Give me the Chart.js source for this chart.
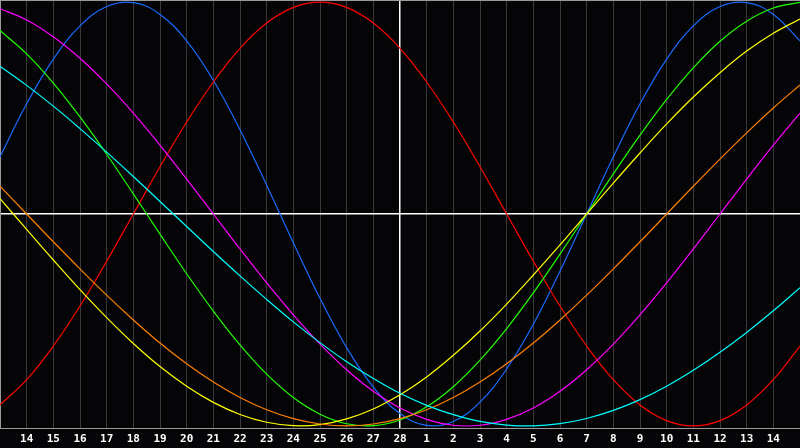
<!DOCTYPE html>
<html>
<head>
<meta charset="utf-8">
<script src="https://cdn.jsdelivr.net/npm/chart.js@4/dist/chart.umd.min.js"></script>
<style>
  html, body { margin: 0; padding: 0; background: #050508; }
  #wrap { width: 800px; height: 448px; position: relative; }
</style>
</head>
<body>
<div id="wrap"><canvas id="bio"></canvas></div>
<script>
// Day labels: first and last sit on the chart edges and are not printed
const dayLabels = ['13', '14', '15', '16', '17', '18', '19', '20', '21', '22', '23', '24', '25', '26', '27', '28',
    '1', '2', '3', '4', '5', '6', '7', '8', '9', '10', '11', '12', '13', '14', '15'];
const todayIndex = 15;

// Cycle values, one per day (-1 .. 1)
const physical = [0.27, 0.52, 0.731, 0.888, 0.979, 0.998, 0.942, 0.817, 0.631, 0.398, 0.136, -0.136, -0.398, -0.631, -0.817, -0.942,
    -0.998, -0.979, -0.888, -0.731, -0.52, -0.27, 0, 0.27, 0.52, 0.731, 0.888, 0.979, 0.998, 0.942, 0.817];
const emotional = [-0.901, -0.782, -0.623, -0.434, -0.223, 0, 0.223, 0.434, 0.623, 0.782, 0.901, 0.975, 1, 0.975, 0.901, 0.782,
    0.623, 0.434, 0.223, 0, -0.223, -0.434, -0.623, -0.782, -0.901, -0.975, -1, -0.975, -0.901, -0.782, -0.623];
const intellectual = [0.866, 0.756, 0.618, 0.458, 0.282, 0.095, -0.095, -0.282, -0.458, -0.618, -0.756, -0.866, -0.945, -0.99, -0.999, -0.972,
    -0.91, -0.815, -0.69, -0.541, -0.372, -0.189, 0, 0.189, 0.372, 0.541, 0.69, 0.815, 0.91, 0.972, 0.999];
const intuitive = [0.969, 0.916, 0.837, 0.735, 0.614, 0.476, 0.325, 0.165, 0, -0.165, -0.325, -0.476, -0.614, -0.735, -0.837, -0.916,
    -0.969, -0.997, -0.997, -0.969, -0.916, -0.837, -0.735, -0.614, -0.476, -0.325, -0.165, 0, 0.165, 0.325, 0.476];
const aesthetic = [0.073, -0.073, -0.217, -0.357, -0.489, -0.611, -0.72, -0.813, -0.889, -0.946, -0.983, -0.999, -0.994, -0.967, -0.92, -0.853,
    -0.769, -0.667, -0.552, -0.425, -0.288, -0.146, 0, 0.146, 0.288, 0.425, 0.552, 0.667, 0.769, 0.853, 0.92];
const awareness = [0.131, 0, -0.131, -0.259, -0.383, -0.5, -0.609, -0.707, -0.793, -0.866, -0.924, -0.966, -0.991, -1, -0.991, -0.966,
    -0.924, -0.866, -0.793, -0.707, -0.609, -0.5, -0.383, -0.259, -0.131, 0, 0.131, 0.259, 0.383, 0.5, 0.609];
const spiritual = [0.697, 0.607, 0.509, 0.403, 0.292, 0.177, 0.059, -0.059, -0.177, -0.292, -0.403, -0.509, -0.607, -0.697, -0.776, -0.846,
    -0.903, -0.947, -0.979, -0.996, -1, -0.989, -0.965, -0.927, -0.876, -0.813, -0.738, -0.653, -0.559, -0.457, -0.348];

const series = [
    { label: 'Spiritual', data: spiritual, color: '#00ffff' },
    { label: 'Awareness', data: awareness, color: '#ff8000' },
    { label: 'Aesthetic', data: aesthetic, color: '#ffff00' },
    { label: 'Intuitive', data: intuitive, color: '#ff00ff' },
    { label: 'Intellectual', data: intellectual, color: '#22ff00' },
    { label: 'Emotional', data: emotional, color: '#ff0000' },
    { label: 'Physical', data: physical, color: '#1a6aff' }
];

// Gray frame line along the top of the plot
const topFrame = {
    id: 'topFrame',
    afterDraw(chart) {
        const { ctx, chartArea } = chart;
        ctx.save();
        ctx.strokeStyle = '#9a9a9a';
        ctx.lineWidth = 1;
        ctx.beginPath();
        ctx.moveTo(chartArea.left, chartArea.top + 0.5);
        ctx.lineTo(chartArea.right, chartArea.top + 0.5);
        ctx.stroke();
        ctx.restore();
    }
};

new Chart(document.getElementById('bio').getContext('2d'), {
    type: 'line',
    data: {
        labels: dayLabels,
        datasets: series.map(s => ({
            label: s.label,
            data: s.data,
            borderColor: s.color,
            borderWidth: 1.2,
            pointRadius: 0,
            tension: 0.4,
            fill: false
        }))
    },
    options: {
        responsive: true,
        maintainAspectRatio: false,
        animation: false,
        layout: { autoPadding: false, padding: 0 },
        plugins: {
            legend: { display: false },
            tooltip: { enabled: false }
        },
        scales: {
            x: {
                type: 'category',
                offset: false,
                // plot runs edge to edge, axis strip is 20px tall
                afterFit: axis => {
                    axis.paddingLeft = 0;
                    axis.paddingRight = 0;
                    axis.height = 20;
                },
                grid: {
                    color: ctx => ctx.index === todayIndex ? '#ffffff' : '#3a3a3a',
                    lineWidth: ctx => ctx.index === todayIndex ? 1.5 : 1,
                    drawTicks: false
                },
                border: { color: '#9a9a9a', width: 1 },
                ticks: {
                    autoSkip: false,
                    maxRotation: 0,
                    padding: 5,
                    color: '#ffffff',
                    font: { family: 'DejaVu Sans Mono', size: 11, weight: 'bold' },
                    callback: (val, i) => (i === 0 || i === dayLabels.length - 1) ? '' : dayLabels[i]
                }
            },
            y: {
                min: -1.01,
                max: 1.01,
                afterFit: axis => {
                    axis.width = 0;
                    axis.paddingTop = 0;
                    axis.paddingBottom = 0;
                },
                afterBuildTicks: axis => { axis.ticks = [{ value: 0 }]; },
                grid: { color: '#ffffff', lineWidth: 1.5, drawTicks: false },
                border: { color: '#9a9a9a', width: 1 },
                ticks: { display: false }
            }
        }
    },
    plugins: [topFrame]
});
</script>
</body>
</html>
